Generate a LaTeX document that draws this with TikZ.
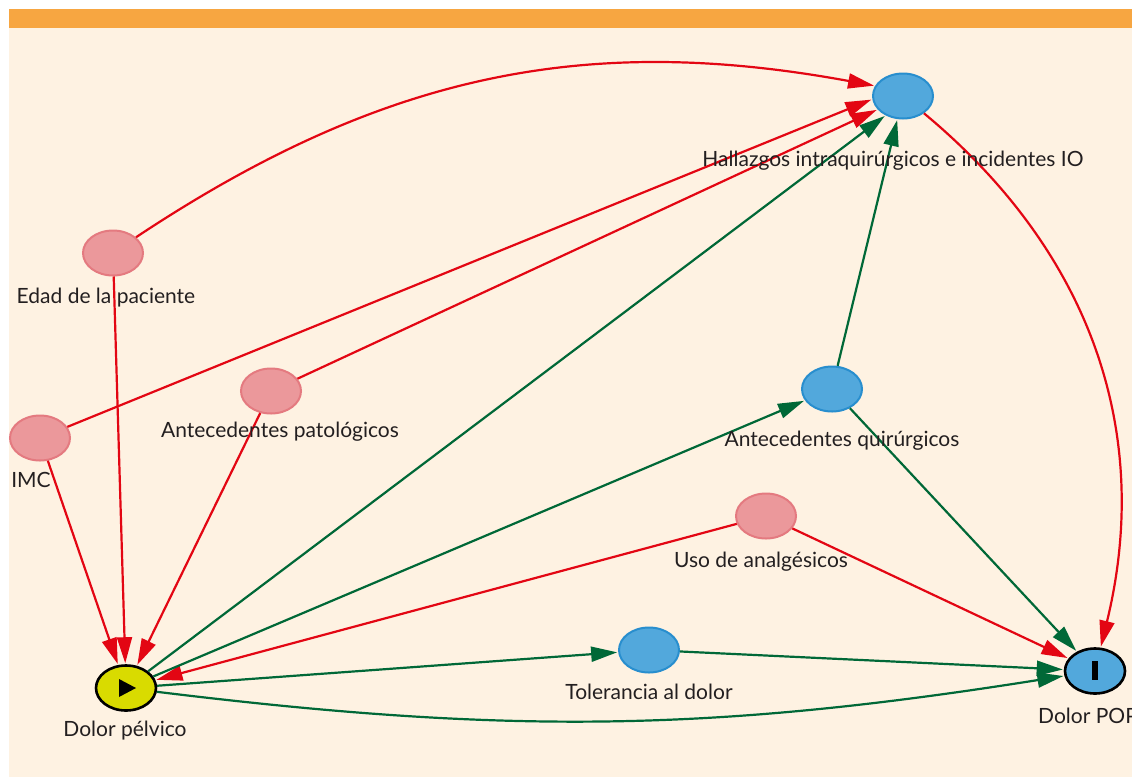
\documentclass[tikz,border=0pt]{standalone}
\usepackage{fontspec}
\setmainfont{Lato}
\usetikzlibrary{shapes.geometric,arrows.meta,positioning,calc}
\definecolor{dagRed}{RGB}{227,6,19}
\definecolor{dagGreen}{RGB}{0,104,55}
\definecolor{pinkFill}{RGB}{235,152,155}
\definecolor{pinkLine}{RGB}{228,122,128}
\definecolor{blueFill}{RGB}{82,168,220}
\definecolor{blueLine}{RGB}{40,142,206}
\definecolor{yellowFill}{RGB}{217,219,0}
\definecolor{creamBg}{RGB}{254,242,226}
\definecolor{orangeBar}{RGB}{247,166,65}
\definecolor{textGray}{RGB}{35,31,32}

\begin{document}
\begin{tikzpicture}[x=1pt,y=1pt]
\tikzset{myFont/.style={font=\fontsize{21}{24}\selectfont,text=textGray,inner sep=0pt}}
\tikzset{myNode/.style={draw,ellipse,minimum width=60pt,minimum height=45pt,inner sep=0pt,line width=2pt}}
\tikzset{myPink/.style={myNode,fill=pinkFill,draw=pinkLine}}
\tikzset{myBlue/.style={myNode,fill=blueFill,draw=blueLine}}
\tikzset{myArrow/.style={line width=2.2pt,-{Triangle[length=26pt,width=15pt]},shorten >=1pt}}
\tikzset{myRed/.style={myArrow,color=dagRed}}
\tikzset{myGreen/.style={myArrow,color=dagGreen}}

% background and top bar
\useasboundingbox (0,0) rectangle (1132,-777);
\fill[white] (0,0) rectangle (1132,-777);
\fill[creamBg] (9,-28) rectangle (1132,-777);
\fill[orangeBar] (9,-9) rectangle (1132,-28);
\clip (0,0) rectangle (1132,-777);

% variables
\node[myBlue] (hallazgos) at (903,-96) {};
\node[myPink] (edad) at (113,-253) {};
\node[myPink] (patol) at (271,-391) {};
\node[myPink] (imc) at (40,-438) {};
\node[myBlue] (quirur) at (832,-389) {};
\node[myPink] (analg) at (766,-516) {};
\node[myBlue] (toler) at (649,-650) {};
\node[myNode,fill=yellowFill,draw=black,line width=2.6pt] (pelvico) at (126,-688) {};
\node[myNode,fill=blueFill,draw=black,line width=2.6pt] (pop) at (1095,-671) {};
\fill[black] ($(pelvico)+(-7,9)$) -- ($(pelvico)+(10,0)$) -- ($(pelvico)+(-7,-9)$) -- cycle;
\fill[black] ($(pop)+(-3,10)$) rectangle ($(pop)+(3,-9)$);

% red arrows
\path[myRed] (edad) edge[bend left=22] (hallazgos.160);
\path[myRed] (imc) edge (hallazgos.186);
\path[myRed] (patol) edge (hallazgos.208);
\path[myRed] (edad) edge (pelvico);
\path[myRed] (imc) edge (pelvico);
\path[myRed] (patol) edge (pelvico);
\path[myRed] (analg) edge (pelvico);
\path[myRed] (analg) edge (pop);
\path[myRed] (hallazgos) edge[bend left=32] (pop);

% green arrows
\path[myGreen] (pelvico) edge (hallazgos.228);
\path[myGreen] (pelvico) edge (quirur);
\path[myGreen] (pelvico) edge (toler);
\path[myGreen] (pelvico) edge[bend right=8] (pop);
\path[myGreen] (toler) edge (pop);
\path[myGreen] (quirur) edge (hallazgos);
\path[myGreen] (quirur) edge (pop);

% labels
\node[myFont] (hallazgosL) at (893,-161) {Hallazgos intraquirúrgicos e incidentes IO};
\node[myFont] (edadL) at (106,-298) {Edad de la paciente};
\node[myFont] (patolL) at (280,-432) {Antecedentes patológicos};
\node[myFont] (imcL) at (31,-480) {IMC};
\node[myFont] (quirurL) at (842,-441) {Antecedentes quirúrgicos};
\node[myFont] (analgL) at (761,-562) {Uso de analgésicos};
\node[myFont] (tolerL) at (649,-692) {Tolerancia al dolor};
\node[myFont] (pelvicoL) at (125,-731) {Dolor pélvico};
\node[myFont,anchor=west] (popL) at (1038,-716) {Dolor POP};
\end{tikzpicture}
\end{document}
